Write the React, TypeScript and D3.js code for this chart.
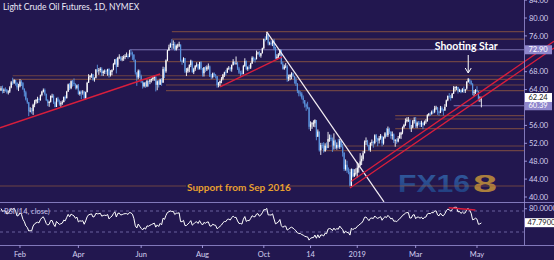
import React from 'react';
import * as d3 from 'd3';

const W = 554;
const H = 260;

// closes before first visible bar (for RSI warm-up)
const warmupCloses = [58.36, 57.47, 57.62, 55.96, 56.69, 57.36, 57.99, 57.14, 56.6, 57.04, 57.3, 57.16, 57.46, 58.09, 58.36, 58.47, 59.97, 59.64, 59.84, 60.42, 60.37, 61.63, 62.01, 61.44, 61.73, 62.96, 63.57, 63.8];

// daily bars: [high, low, close]
const jan18 = [[64.77,63.67,64.30],[64.89,63.14,63.73],[64.27,63.24,63.97],[64.50,63.54,63.95],[64.15,63.10,63.37],[63.85,62.91,63.57],[64.76,63.25,64.47],[65.90,64.30,65.61],[66.66,65.05,65.51],[66.30,65.25,66.14],[66.20,64.90,65.56],[65.60,63.98,64.50],[65.30,63.67,64.73]];
const feb18 = [[66.34,64.50,65.80],[66.12,64.80,65.45],[65.70,63.90,64.15],[64.30,62.46,63.39],[63.75,61.57,61.79],[62.15,60.83,61.15],[61.25,58.07,59.20],[60.05,58.92,59.29],[59.89,58.61,59.19],[60.85,58.35,60.60],[61.70,60.06,61.34],[61.90,60.86,61.68],[62.40,60.95,61.90],[62.20,61.05,61.68],[62.90,61.50,62.77],[63.73,62.50,63.55],[64.25,63.35,63.91],[64.24,62.65,63.01],[63.12,61.43,61.64]];
const mar18 = [[61.86,60.30,60.99],[61.50,60.15,61.25],[62.70,61.10,62.57],[63.07,62.10,62.60],[62.95,60.80,61.15],[61.35,60.05,60.12],[62.18,60.25,62.04],[62.38,61.18,61.36],[61.77,60.40,60.71],[61.40,60.14,60.96],[61.60,60.60,61.19],[62.46,61.17,62.34],[62.70,61.52,62.06],[63.72,62.05,63.54],[65.34,63.50,65.17],[65.50,63.90,64.30],[66.06,64.08,65.88],[66.15,64.67,65.55],[66.50,64.82,65.25],[65.40,64.03,64.38],[65.13,64.05,64.94]];
const apr18 = [[65.25,62.83,63.01],[63.77,62.65,63.51],[63.80,61.85,63.37],[63.88,62.87,63.54],[63.70,61.81,62.06],[63.54,61.83,63.42],[65.75,63.40,65.51],[67.45,65.55,66.82],[67.25,66.25,67.07],[67.63,66.64,67.39],[67.50,65.98,66.22],[66.75,65.77,66.52],[68.58,66.70,68.47],[69.56,67.85,68.29],[68.82,67.30,68.38],[69.00,67.85,68.64],[69.00,67.05,67.70],[68.31,67.05,68.05],[68.50,67.50,68.19],[68.46,67.43,68.10],[68.65,67.10,68.57]];
const may18 = [[68.79,66.70,67.25],[68.34,66.93,67.93],[68.50,67.20,68.43],[69.97,68.30,69.72],[70.84,69.51,70.73],[71.00,67.61,69.06],[71.32,69.54,71.14],[71.89,70.80,71.36],[71.40,70.40,70.70],[71.50,70.33,70.96],[71.68,70.42,71.31],[71.92,70.80,71.49],[72.30,71.26,71.49],[71.92,70.91,71.28],[72.83,71.25,72.24],[72.90,71.60,72.13],[72.50,70.63,71.84],[71.87,70.22,70.71],[70.63,67.36,67.88],[67.80,64.83,66.73],[68.50,66.33,68.21],[68.46,66.62,67.04]];
const jun18 = [[67.35,65.43,65.81],[65.94,64.22,64.75],[65.68,64.50,65.52],[65.76,64.39,64.73],[66.20,64.55,65.95],[66.00,64.66,65.74],[66.40,65.21,66.10],[66.50,65.58,66.36],[66.91,65.95,66.64],[67.14,65.96,66.89],[66.95,63.59,65.06],[66.06,63.86,65.85],[66.15,64.46,65.07],[66.45,65.09,66.22],[66.58,64.85,65.54],[69.12,65.54,68.58],[69.00,66.58,68.08],[70.75,67.75,70.53],[72.90,70.34,72.76],[74.03,72.67,73.45],[74.46,73.35,74.15]];
const jul18 = [[75.27,73.06,73.94],[75.00,73.12,74.14],[74.62,72.68,72.94],[74.09,72.71,73.80],[74.25,73.20,73.85],[74.70,73.51,74.11],[74.00,70.24,70.38],[70.70,69.55,70.33],[71.23,70.00,71.01],[71.06,67.72,68.06],[68.80,67.03,68.08],[68.97,67.75,68.76],[69.65,67.88,69.46],[70.68,69.03,70.46],[70.30,67.76,67.89],[68.88,67.47,68.52],[69.50,68.17,69.30],[70.10,68.98,69.61],[69.72,68.38,68.69],[70.20,68.48,70.13],[70.35,68.38,68.76]];
const aug18 = [[68.80,66.92,67.66],[69.05,66.93,68.96],[69.25,67.90,68.49],[69.40,68.15,69.01],[69.84,68.49,69.17],[69.38,66.81,66.94],[67.47,66.32,66.81],[67.80,66.50,67.63],[67.84,66.79,67.20],[67.50,66.49,67.04],[66.95,64.43,65.01],[65.70,64.50,65.46],[66.05,64.75,65.91],[66.80,65.42,66.43],[67.50,66.08,67.35],[68.00,66.80,67.86],[68.40,67.12,67.83],[68.90,67.70,68.72],[69.25,68.40,68.87],[69.06,68.10,68.53],[69.59,68.00,69.51],[70.80,69.39,70.25],[70.27,69.58,69.80]];
const sep18 = [[71.40,69.57,69.87],[70.22,68.40,68.72],[69.08,67.48,67.77],[68.21,66.93,67.75],[68.29,67.25,67.54],[69.52,67.42,69.25],[71.00,69.08,70.37],[70.50,68.34,68.59],[69.20,68.21,68.99],[69.55,68.52,68.91],[70.00,68.60,69.85],[71.44,69.74,71.12],[71.38,70.26,70.80],[71.15,70.04,70.78],[72.73,70.77,72.08],[72.47,71.79,72.28],[72.60,71.31,71.57],[72.20,71.14,72.12],[73.36,72.09,73.25]];
const oct18 = [[75.40,73.03,75.30],[75.91,74.76,75.23],[76.90,75.08,76.41],[76.54,73.88,74.33],[74.71,73.92,74.34],[75.01,73.85,74.29],[75.09,73.72,74.96],[75.35,72.80,73.17],[73.55,70.85,70.97],[71.91,70.63,71.34],[72.15,70.91,71.78],[72.98,71.52,72.92],[72.40,69.62,69.75],[70.28,68.47,68.65],[69.56,68.41,69.12],[69.91,68.78,69.17],[69.50,65.74,66.43],[67.35,65.89,66.82],[67.42,66.10,67.33],[67.88,66.30,67.59],[67.80,66.80,67.04],[67.00,65.33,66.18],[66.80,64.81,65.31]];
const nov18 = [[65.46,63.21,63.69],[63.93,62.50,63.14],[63.64,62.48,63.10],[63.44,61.80,62.21],[62.68,60.88,61.67],[61.60,60.00,60.67],[60.93,59.26,60.19],[61.28,59.61,59.93],[60.11,55.12,55.69],[56.90,54.75,56.25],[56.76,55.23,56.46],[57.13,55.69,56.46],[57.36,55.59,57.20],[56.90,52.68,53.43],[55.10,53.50,54.63],[54.60,50.15,50.42],[52.10,49.41,51.63],[52.10,50.86,51.56],[52.25,49.91,50.29],[52.00,50.07,51.45],[52.22,50.51,50.93]];
const dec18 = [[54.55,52.39,52.95],[53.98,52.34,53.25],[53.93,52.50,52.89],[53.30,50.08,51.49],[54.22,50.60,52.61],[52.84,50.70,51.00],[52.20,50.58,51.65],[53.00,50.85,51.15],[52.96,50.75,52.58],[52.60,51.07,51.20],[51.87,49.02,49.88],[50.00,45.79,46.24],[48.40,45.88,47.20],[48.10,45.40,45.88],[46.60,45.08,45.59],[46.24,42.36,42.53],[46.38,42.40,46.22],[46.30,44.35,44.61],[46.22,44.48,45.33],[46.40,44.80,45.41]];
const jan19 = [[47.78,44.35,46.54],[47.54,45.44,47.09],[49.79,46.83,47.96],[49.28,47.13,48.52],[50.31,48.11,49.78],[52.64,49.77,52.36],[53.31,51.63,52.59],[52.77,51.31,51.59],[51.67,50.29,50.51],[52.20,50.11,52.11],[52.85,51.47,52.31],[52.55,51.02,52.07],[54.02,51.77,53.80],[54.09,52.31,53.01],[53.24,51.34,52.62],[53.64,51.95,53.13],[54.08,52.80,53.69],[53.47,51.33,51.99],[53.49,51.69,53.31],[54.50,53.03,54.23],[55.37,53.46,53.79]];
const feb19 = [[55.75,53.40,55.26],[55.49,54.10,54.56],[54.72,53.02,53.66],[54.65,52.81,54.01],[54.20,52.06,52.64],[52.95,51.23,52.72],[53.11,51.88,52.41],[53.63,52.21,53.10],[54.44,53.10,53.90],[54.58,52.98,54.41],[55.75,54.02,55.59],[56.35,55.30,56.09],[57.55,55.88,56.92],[57.81,56.65,57.26],[57.88,56.75,57.26],[57.29,55.15,55.48],[56.11,54.52,55.50],[57.21,55.35,56.94],[57.81,56.41,57.22]];
const mar19 = [[57.88,55.42,55.80],[56.88,55.38,56.59],[57.00,56.03,56.56],[56.96,55.62,56.22],[57.05,55.65,56.66],[56.55,55.14,56.07],[57.08,55.99,56.79],[57.38,56.35,56.87],[58.51,56.90,58.26],[58.78,58.02,58.61],[58.93,58.10,58.52],[59.33,58.40,59.09],[59.57,58.64,59.03],[60.37,58.73,59.83],[60.39,59.47,59.98],[60.12,58.37,59.04],[59.30,58.15,58.82],[60.35,58.75,59.94],[60.25,59.07,59.41],[59.69,58.24,59.30],[60.74,59.30,60.14]];
const apr19 = [[61.77,60.34,61.59],[62.68,61.40,62.58],[63.21,61.98,62.46],[62.80,61.55,62.10],[63.24,62.09,63.08],[64.79,63.06,64.40],[64.69,63.56,64.61],[64.76,63.87,64.61],[64.59,63.12,63.58],[64.18,63.44,63.89],[64.03,63.19,63.40],[64.33,63.45,64.05],[64.68,63.27,63.76],[64.16,63.25,64.00],[65.92,64.33,65.70],[66.60,65.55,66.30],[66.43,65.28,65.89],[66.09,64.99,65.21],[65.44,62.75,63.30],[63.88,62.50,63.50],[64.11,63.03,63.91]];
const may19 = [[64.75,63.38,63.60],[63.71,61.35,61.81],[62.48,61.26,61.94],[62.40,60.04,62.24]];

const months = [jan18, feb18, mar18, apr18, may18, jun18, jul18, aug18, sep18, oct18, nov18, dec18, jan19, feb19, mar19, apr19, may19];

const timeLabels = ['Feb', 'Apr', 'Jun', 'Aug', 'Oct', '14', '2019', 'Mar', 'May'];
const timeLabelMonth = [1, 3, 5, 7, 9, 10, 12, 14, 16];
const timeLabelOffset = [0, 0, 0, 0, 0, 9, 0, 0, 0];

const priceTicks = [84, 80, 76, 68, 64, 56, 52, 48, 44, 40];

// horizontal levels (price, start bar index)
const levelPrices = [76.94, 75.3, 70.23, 67.1, 66.3, 65.03, 63.75, 58.17, 57.43, 55.3, 51.4, 50.35, 42.46];
const levelStarts = [117, 117, 88, 8, 8, 113, 113, 270, 270, 270, 220, 220, -1];
const markedLevels = [72.9, 60.39];
const markedStarts = [88, 310];

const lastPrice = 62.24;
const lastRsi = 47.79;
const rsiTopLabel = 80;

// trendlines [barIndex, price]
const redTrend1 = [[-0.7, 55.45], [109, 67.5]];
const redTrend2 = [[150, 64.6], [192.5, 71.3]];
const whiteTrend = [[182, 76.9], [262.3, 38.9]];
const channelLow = [[239, 42.0], [378.7, 73.3]];
const channelHigh = [[240, 43.5], [378.7, 74.8]];
const rsiTrend = [[306.6, 76.3], [324.9, 71.9]];

function computeRsi(closes: number[], n = 14) {
  const out: number[] = new Array(closes.length).fill(NaN);
  let g = 0, l = 0;
  for (let i = 1; i <= n; i++) {
    const d = closes[i] - closes[i - 1];
    if (d > 0) g += d; else l -= d;
  }
  g /= n; l /= n;
  out[n] = 100 - 100 / (1 + g / l);
  for (let i = n + 1; i < closes.length; i++) {
    const d = closes[i] - closes[i - 1];
    g = (g * (n - 1) + Math.max(d, 0)) / n;
    l = (l * (n - 1) + Math.max(-d, 0)) / n;
    out[i] = l === 0 ? 100 : 100 - 100 / (1 + g / l);
  }
  return out;
}

const BG = '#22174f';
const UP = '#ffffff';
const DOWN = '#5b94df';
const LEVEL = '#a0603e';
const LAV = '#9a91d4';
const AXIS_TXT = '#d4cff0';
const FONT = 'Lato, "Open Sans", sans-serif';

export default function App() {
  const bars = months.flat();
  const closes = bars.map((b) => b[2]);
  const opens = bars.map((b, i) => (i === 0 ? warmupCloses[warmupCloses.length - 1] : bars[i - 1][2]));
  const monthStart: number[] = [];
  let acc = 0;
  months.forEach((m) => { monthStart.push(acc); acc += m.length; });

  const x = d3.scaleLinear().domain([-0.685, 358.2]).range([0, 524]);
  const y = d3.scaleLinear().domain([80, 40]).range([18, 197]);
  const yr = d3.scaleLinear().domain([70, 30]).range([211, 232]);

  const rsiVals = computeRsi([...warmupCloses, ...closes]).slice(warmupCloses.length);
  const rsiPath = d3.line<number>().x((_, i) => x(i)).y((d) => yr(d))(rsiVals) || '';

  const seg = (pts: number[][], ys: d3.ScaleLinear<number, number>) => ({
    x1: x(pts[0][0]), y1: ys(pts[0][1]), x2: x(pts[1][0]), y2: ys(pts[1][1]),
  });

  const t1 = seg(redTrend1, y), t2 = seg(redTrend2, y), tw = seg(whiteTrend, y);
  const cl = seg(channelLow, y), ch = seg(channelHigh, y), rt = seg(rsiTrend, yr);
  const peakIdx = monthStart[15] + 15;

  return (
    <svg width={W} height={H} style={{ position: 'absolute', left: 0, top: 0, display: 'block' }}>
      <defs>
        <clipPath id="main"><rect x={0} y={0} width={524} height={202} /></clipPath>
        <clipPath id="mainWide"><rect x={0} y={0} width={554} height={202} /></clipPath>
        <clipPath id="rsi"><rect x={0} y={202} width={524} height={43} /></clipPath>
        <linearGradient id="fxg" x1="0" y1="0" x2="0" y2="1">
          <stop offset="0" stopColor="#3f86d0" />
          <stop offset="1" stopColor="#1d4f95" />
        </linearGradient>
      </defs>
      <rect x={0} y={0} width={W} height={H} fill={BG} />

      {/* watermark */}
      <g opacity={0.85}>
        <text x={398} y={192} fontFamily='"Liberation Sans", sans-serif' fontWeight={700} fontSize={24} fill="url(#fxg)" textLength={72} lengthAdjust="spacingAndGlyphs" opacity={0.75}>FX16</text>
        <text x={473} y={192} fontFamily='"Liberation Sans", sans-serif' fontWeight={700} fontSize={24} fill="#c4923a" textLength={24} lengthAdjust="spacingAndGlyphs">8</text>
      </g>

      <g clipPath="url(#main)">
        {levelPrices.map((p, i) => (
          <line key={'lv' + i} x1={x(levelStarts[i])} x2={524} y1={y(p)} y2={y(p)} stroke={LEVEL} strokeOpacity={0.6} strokeWidth={1.2} />
        ))}
        {markedLevels.map((p, i) => (
          <line key={'ml' + i} x1={x(markedStarts[i])} x2={524} y1={y(p)} y2={y(p)} stroke={LAV} strokeOpacity={0.75} strokeWidth={1} />
        ))}

        {bars.map((b, i) => {
          const o = opens[i], c = b[2];
          const col = c >= o ? UP : DOWN;
          const top = y(Math.max(o, c)), bot = y(Math.min(o, c));
          return (
            <g key={'b' + i}>
              <line x1={x(i)} x2={x(i)} y1={y(b[0])} y2={y(b[1])} stroke={col} strokeWidth={0.9} />
              <rect x={x(i) - 0.6} y={top} width={1.2} height={Math.max(0.8, bot - top)} fill={col} />
            </g>
          );
        })}

        <line {...t1} stroke="#d81e3c" strokeWidth={1.5} />
        <line {...t2} stroke="#d81e3c" strokeWidth={1.5} />
        <line {...tw} stroke="#f4eef4" strokeWidth={1.2} />
      </g>
      <g clipPath="url(#mainWide)">
        <line {...cl} stroke="#d81e3c" strokeWidth={1.3} />
        <line {...ch} stroke="#d81e3c" strokeWidth={1.3} />
      </g>

      {/* support annotation */}
      <rect x={186} y={181} width={97} height={12} fill={BG} />
      <text x={187} y={191} fontFamily={FONT} fontWeight={700} fontSize={10} fill="#e8a030">Support from Sep 2016</text>

      {/* shooting star */}
      <text x={x(peakIdx) - 2} y={50} textAnchor="middle" fontFamily={FONT} fontWeight={700} fontSize={10.5} fill="#ffffff">Shooting Star</text>
      <line x1={x(peakIdx)} x2={x(peakIdx)} y1={55} y2={73} stroke="#ffffff" strokeWidth={1} />
      <path d={`M${x(peakIdx) - 3},${68} L${x(peakIdx)},${73} L${x(peakIdx) + 3},${68}`} fill="none" stroke="#ffffff" strokeWidth={1} />

      <text x={3} y={10} fontFamily={FONT} fontSize={8.5} fill="#ece9f8">Light Crude Oil Futures, 1D, NYMEX</text>

      {/* panels separators */}
      <line x1={0} x2={W} y1={202.5} y2={202.5} stroke={LAV} strokeOpacity={0.8} />
      <line x1={0} x2={W} y1={245.5} y2={245.5} stroke={LAV} strokeOpacity={0.8} />
      <line x1={524.5} x2={524.5} y1={0} y2={245} stroke={LAV} strokeOpacity={0.8} />

      {/* RSI */}
      <line x1={0} x2={524} y1={yr(70)} y2={yr(70)} stroke={LAV} strokeOpacity={0.6} strokeDasharray="3,3" />
      <line x1={0} x2={524} y1={yr(30)} y2={yr(30)} stroke={LAV} strokeOpacity={0.6} strokeDasharray="3,3" />
      <g clipPath="url(#rsi)">
        <path d={rsiPath} fill="none" stroke="#ffffff" strokeWidth={1} />
        <line {...rt} stroke="#d81e3c" strokeWidth={1.5} />
      </g>
      <text x={4} y={214} fontFamily={FONT} fontSize={7.5} fill="#c9c3ea">RSI (14, close)</text>

      {/* price axis */}
      {priceTicks.map((p) => (
        <g key={'pt' + p}>
          <line x1={524} x2={527} y1={y(p)} y2={y(p)} stroke={LAV} />
          <text x={529} y={y(p) + 2.7} fontFamily={FONT} fontSize={7.5} fill={AXIS_TXT}>{p.toFixed(2)}</text>
        </g>
      ))}
      {markedLevels.map((p) => (
        <g key={'mb' + p}>
          <rect x={525} y={y(p) - 4.5} width={27} height={9} fill="#8f86cc" />
          <text x={528.5} y={y(p) + 2.7} fontFamily={FONT} fontSize={7.5} fill="#ffffff">{p.toFixed(2)}</text>
        </g>
      ))}
      <rect x={525} y={y(lastPrice) - 4.5} width={27} height={9} fill="#ffffff" />
      <text x={528.5} y={y(lastPrice) + 2.7} fontFamily={FONT} fontSize={7.5} fill="#222">{lastPrice.toFixed(2)}</text>

      <line x1={524} x2={527} y1={yr(rsiTopLabel) + 3} y2={yr(rsiTopLabel) + 3} stroke={LAV} />
      <text x={529} y={yr(rsiTopLabel) + 5.7} fontFamily={FONT} fontSize={7.5} fill={AXIS_TXT}>{rsiTopLabel.toFixed(4)}</text>
      <rect x={525} y={yr(lastRsi) - 4.5} width={29} height={9} fill="#ffffff" />
      <text x={527.5} y={yr(lastRsi) + 2.7} fontFamily={FONT} fontSize={7.5} fill="#222">{lastRsi.toFixed(4)}</text>

      {/* time axis */}
      {timeLabels.map((t, i) => {
        const xi = x(monthStart[timeLabelMonth[i]] + timeLabelOffset[i]);
        return (
          <g key={'tl' + i}>
            <line x1={xi} x2={xi} y1={245} y2={248} stroke={LAV} />
            <text x={xi} y={257} textAnchor="middle" fontFamily={FONT} fontSize={7.5} fill={AXIS_TXT}>{t}</text>
          </g>
        );
      })}
    </svg>
  );
}
